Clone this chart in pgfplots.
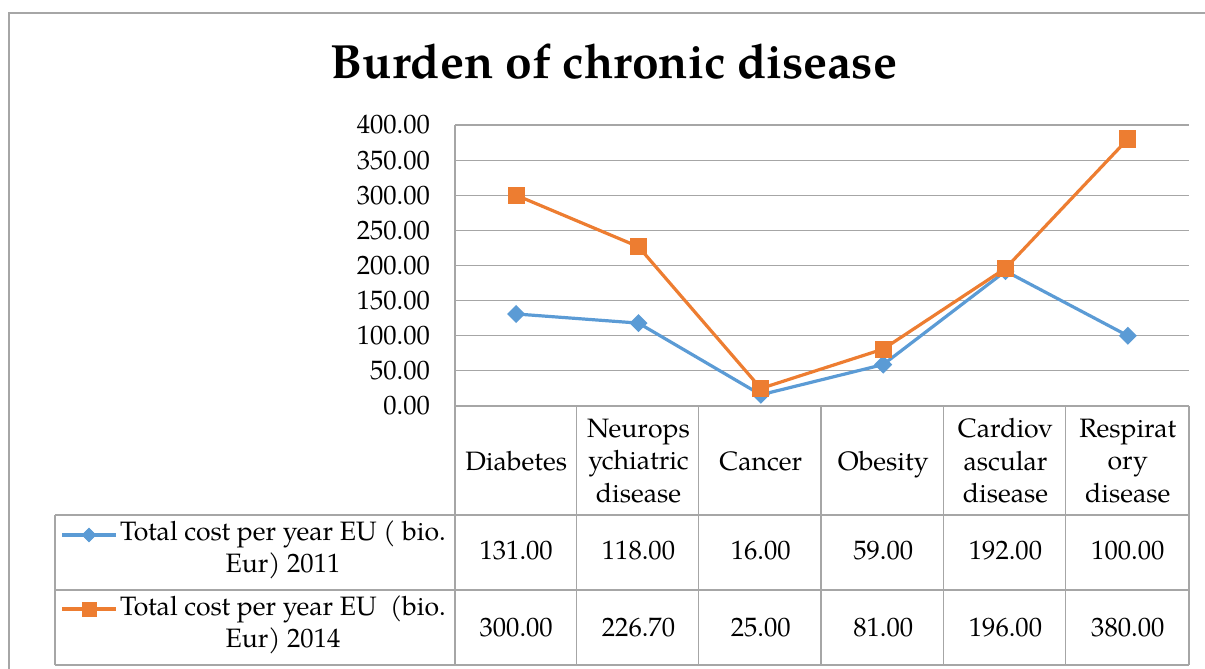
\documentclass[border=0pt]{standalone}
\usepackage{fontspec}
\setmainfont{TeX Gyre Pagella}
\usepackage{pgfplots}
\pgfplotsset{compat=1.18}
\definecolor{cblue}{RGB}{91,155,213}
\definecolor{corange}{RGB}{237,125,49}
\definecolor{gridgray}{RGB}{166,166,166}
\newcommand\tf{\fontsize{13.3}{16.25}\selectfont}
\begin{document}
\begin{tikzpicture}
\useasboundingbox (0,0) rectangle (602.5pt,-334.5pt);
\begin{axis}[
 at={(227.5pt,-203pt)}, anchor=south west,
 width=367pt, height=140.5pt, scale only axis,
 xmin=-0.5, xmax=5.5, ymin=0, ymax=400,
 ytick={0,50,...,400}, xtick=\empty,
 ymajorgrids, grid style={draw=gridgray, line width=0.6pt},
 axis line style={draw=none},
 major tick length=0pt,
 yticklabel style={font=\tf, xshift=-9pt, /pgf/number format/fixed, /pgf/number format/fixed zerofill, /pgf/number format/precision=2, /pgf/number format/assume math mode=true},
 clip=false,
]
\addplot[color=cblue, line width=1.6pt, mark=square*, mark size=2.4pt, mark options={solid, fill=cblue, rotate=45}] coordinates {(0,131)(1,118)(2,16)(3,59)(4,192)(5,100)};
\addplot[color=corange, line width=1.6pt, mark=square*, mark size=3.5pt, mark options={solid, fill=corange}] coordinates {(0,300)(1,226.7)(2,25)(3,81)(4,196)(5,380)};
\end{axis}
\begin{scope}[x=0.5pt, y=-0.5pt]
\draw[gridgray, line width=0.6pt] (9,669)--(9,13)--(1205,13);
\node[font=\fontsize{24}{28}\selectfont\bfseries, anchor=base] at (614,78) {Burden of chronic disease};
\begin{scope}[draw=gridgray, line width=0.6pt]
\draw (455,125)--(455,665);
\draw (455,406)--(1189,406);
\foreach \x in {576.33,698.67,821,943.33,1065.67,1189} \draw (\x,406)--(\x,665);
\draw (55,515)--(1189,515);
\draw (55,590)--(1189,590);
\draw (55,665)--(1189,665);
\draw (55,515)--(55,665);
\end{scope}
% header
\node[font=\tf, text depth=0pt] at (516.2,461) {Diabetes};
\node[font=\tf, align=center] at (638.5,461) {Neurops\\ychiatric\\disease};
\node[font=\tf, text depth=0pt] at (760.8,461) {Cancer};
\node[font=\tf, text depth=0pt] at (883.2,461) {Obesity};
\node[font=\tf, align=center] at (1005.5,461) {Cardiov\\ascular\\disease};
\node[font=\tf, align=center] at (1127.8,461) {Respirat\\ory\\disease};
% legend keys
\draw[cblue, line width=1.6pt] (62,535)--(116,535);
\path plot[mark=square*, mark size=2.4pt, mark options={draw=cblue, fill=cblue, rotate=45}] coordinates {(89,535)};
\draw[corange, line width=1.6pt] (62,609)--(116,609);
\path plot[mark=square*, mark size=3.5pt, mark options={draw=corange, fill=corange}] coordinates {(89,609)};
\node[font=\tf, align=center] at (283,550) {Total cost per year EU ( bio.\\Eur) 2011};
\node[font=\tf, align=center] at (283,625) {Total cost per year EU\ \ (bio.\\Eur) 2014};
% values
\foreach \x/\a/\b in {516.2/131.00/300.00, 638.5/118.00/226.70, 760.8/16.00/25.00, 883.2/59.00/81.00, 1005.5/192.00/196.00, 1127.8/100.00/380.00} {
  \node[font=\tf] at (\x,551) {\a};
  \node[font=\tf] at (\x,628) {\b};
}
\end{scope}
\end{tikzpicture}
\end{document}
